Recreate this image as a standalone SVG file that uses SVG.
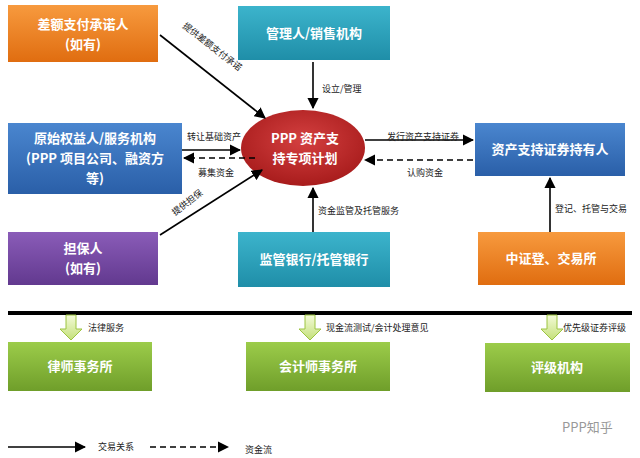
<svg xmlns="http://www.w3.org/2000/svg" width="640" height="458" viewBox="0 0 640 458">
<defs>
<linearGradient id="gO" x1="0" y1="0" x2="0" y2="1"><stop offset="0" stop-color="#f79a3e"/><stop offset="1" stop-color="#e06d10"/></linearGradient>
<linearGradient id="gT" x1="0" y1="0" x2="0" y2="1"><stop offset="0" stop-color="#3cb4cc"/><stop offset="1" stop-color="#1f8ea8"/></linearGradient>
<linearGradient id="gB" x1="0" y1="0" x2="0" y2="1"><stop offset="0" stop-color="#4a86cf"/><stop offset="1" stop-color="#2a5fa8"/></linearGradient>
<linearGradient id="gP" x1="0" y1="0" x2="0" y2="1"><stop offset="0" stop-color="#8a5cb8"/><stop offset="1" stop-color="#62398f"/></linearGradient>
<linearGradient id="gG" x1="0" y1="0" x2="0" y2="1"><stop offset="0" stop-color="#9ccc4a"/><stop offset="1" stop-color="#6f9e2a"/></linearGradient>
<radialGradient id="gR" cx="0.5" cy="0.4" r="0.6"><stop offset="0" stop-color="#d44040"/><stop offset="1" stop-color="#a81c1c"/></radialGradient>
<linearGradient id="gA" x1="0" y1="0" x2="0" y2="1"><stop offset="0" stop-color="#f4fbd8"/><stop offset="1" stop-color="#c4e07a"/></linearGradient>
<marker id="ah" viewBox="0 0 10 10" refX="9" refY="5" markerWidth="7" markerHeight="7" orient="auto"><path d="M0,0L10,5L0,10z" fill="#000"/></marker>
</defs>
<style>
.bx{stroke:none}
.t{font-family:"Noto Sans CJK SC",sans-serif;font-weight:bold;fill:#fff;font-size:13px;text-anchor:middle}
.l{font-family:"Noto Sans CJK SC",sans-serif;fill:#222;font-size:9px}
.s{stroke:#000;stroke-width:1.6;fill:none;marker-end:url(#ah)}
.d{stroke:#000;stroke-width:1.6;fill:none;stroke-dasharray:6,4;marker-end:url(#ah)}
</style>
<rect width="640" height="458" fill="#fff"/>
<g id="n1"><rect class="bx" x="8" y="5" width="150" height="57" fill="url(#gO)"/><text class="t" x="83" y="29">差额支付承诺人</text><text class="t" x="83" y="49" font-weight="normal">(如有)</text></g>
<g id="n2"><rect class="bx" x="238" y="6" width="152" height="54" fill="url(#gT)"/><text class="t" x="314" y="38">管理人/销售机构</text></g>
<g id="n3"><rect class="bx" x="8" y="123" width="174" height="71" fill="url(#gB)"/><text class="t" x="95" y="143">原始权益人/服务机构</text><text class="t" x="95" y="163" font-weight="normal">(PPP 项目公司、融资方</text><text class="t" x="95" y="183" font-weight="normal">等)</text></g>
<g id="n4"><rect class="bx" x="8" y="232" width="150" height="53" fill="url(#gP)"/><text class="t" x="83" y="253">担保人</text><text class="t" x="83" y="273" font-weight="normal">(如有)</text></g>
<g id="n5"><ellipse cx="303" cy="148" rx="62" ry="38" fill="url(#gR)"/><text class="t" x="305" y="143">PPP 资产支</text><text class="t" x="305" y="163">持专项计划</text></g>
<g id="n6"><rect class="bx" x="475" y="123" width="150" height="53" fill="url(#gB)"/><text class="t" x="550" y="154">资产支持证券持有人</text></g>
<g id="n7"><rect class="bx" x="238" y="232" width="152" height="55" fill="url(#gT)"/><text class="t" x="314" y="264">监管银行/托管银行</text></g>
<g id="n8"><rect class="bx" x="478" y="232" width="147" height="53" fill="url(#gO)"/><text class="t" x="551" y="263">中证登、交易所</text></g>
<g id="n9"><rect class="bx" x="8" y="342" width="144" height="49" fill="url(#gG)"/><text class="t" x="80" y="371">律师事务所</text></g>
<g id="n10"><rect class="bx" x="246" y="342" width="144" height="49" fill="url(#gG)"/><text class="t" x="318" y="371">会计师事务所</text></g>
<g id="n11"><rect class="bx" x="485" y="343" width="145" height="49" fill="url(#gG)"/><text class="t" x="557" y="372">评级机构</text></g>
<g id="connectors">
<path class="s" d="M160,35L265,118"/>
<path class="s" d="M313,62V108"/>
<path class="s" d="M182,150H240"/>
<path class="d" d="M255,158H184"/>
<path class="s" d="M160,235L262,170"/>
<path class="s" d="M313,232V188"/>
<path class="s" d="M365,140H473"/>
<path class="d" d="M473,160H365"/>
<path class="s" d="M550,232V178"/>
<line x1="8" y1="313" x2="632" y2="313" stroke="#000" stroke-width="4"/>
<g fill="url(#gA)" stroke="#9cc440" stroke-width="1">
<path d="M66,315h10v14h6l-11,11l-11,-11h6z"/>
<path d="M305,315h10v14h6l-11,11l-11,-11h6z"/>
<path d="M547,315h10v14h6l-11,11l-11,-11h6z"/>
</g>
<path class="s" d="M8,447H85"/>
<path class="d" d="M150,447H228"/>
</g>
<g id="labels">
<text class="l" transform="translate(182,27) rotate(38)">提供差额支付承诺</text>
<text class="l" x="322" y="92">设立/管理</text>
<text class="l" x="187" y="140">转让基础资产</text>
<text class="l" x="198" y="176">募集资金</text>
<text class="l" transform="translate(175,216) rotate(-38)">提供担保</text>
<text class="l" x="318" y="214">资金监管及托管服务</text>
<text class="l" x="387" y="140">发行资产支持证券</text>
<text class="l" x="407" y="176">认购资金</text>
<text class="l" x="555" y="212">登记、托管与交易</text>
<text class="l" x="88" y="331">法律服务</text>
<text class="l" x="326" y="331">现金流测试/会计处理意见</text>
<text class="l" x="563" y="331">优先级证券评级</text>
<text class="l" x="98" y="450">交易关系</text>
<text class="l" x="245" y="453">资金流</text>
<text x="562" y="432" font-family="Noto Sans CJK SC,sans-serif" font-size="13" fill="#999">PPP知乎</text>
</g>
</svg>
